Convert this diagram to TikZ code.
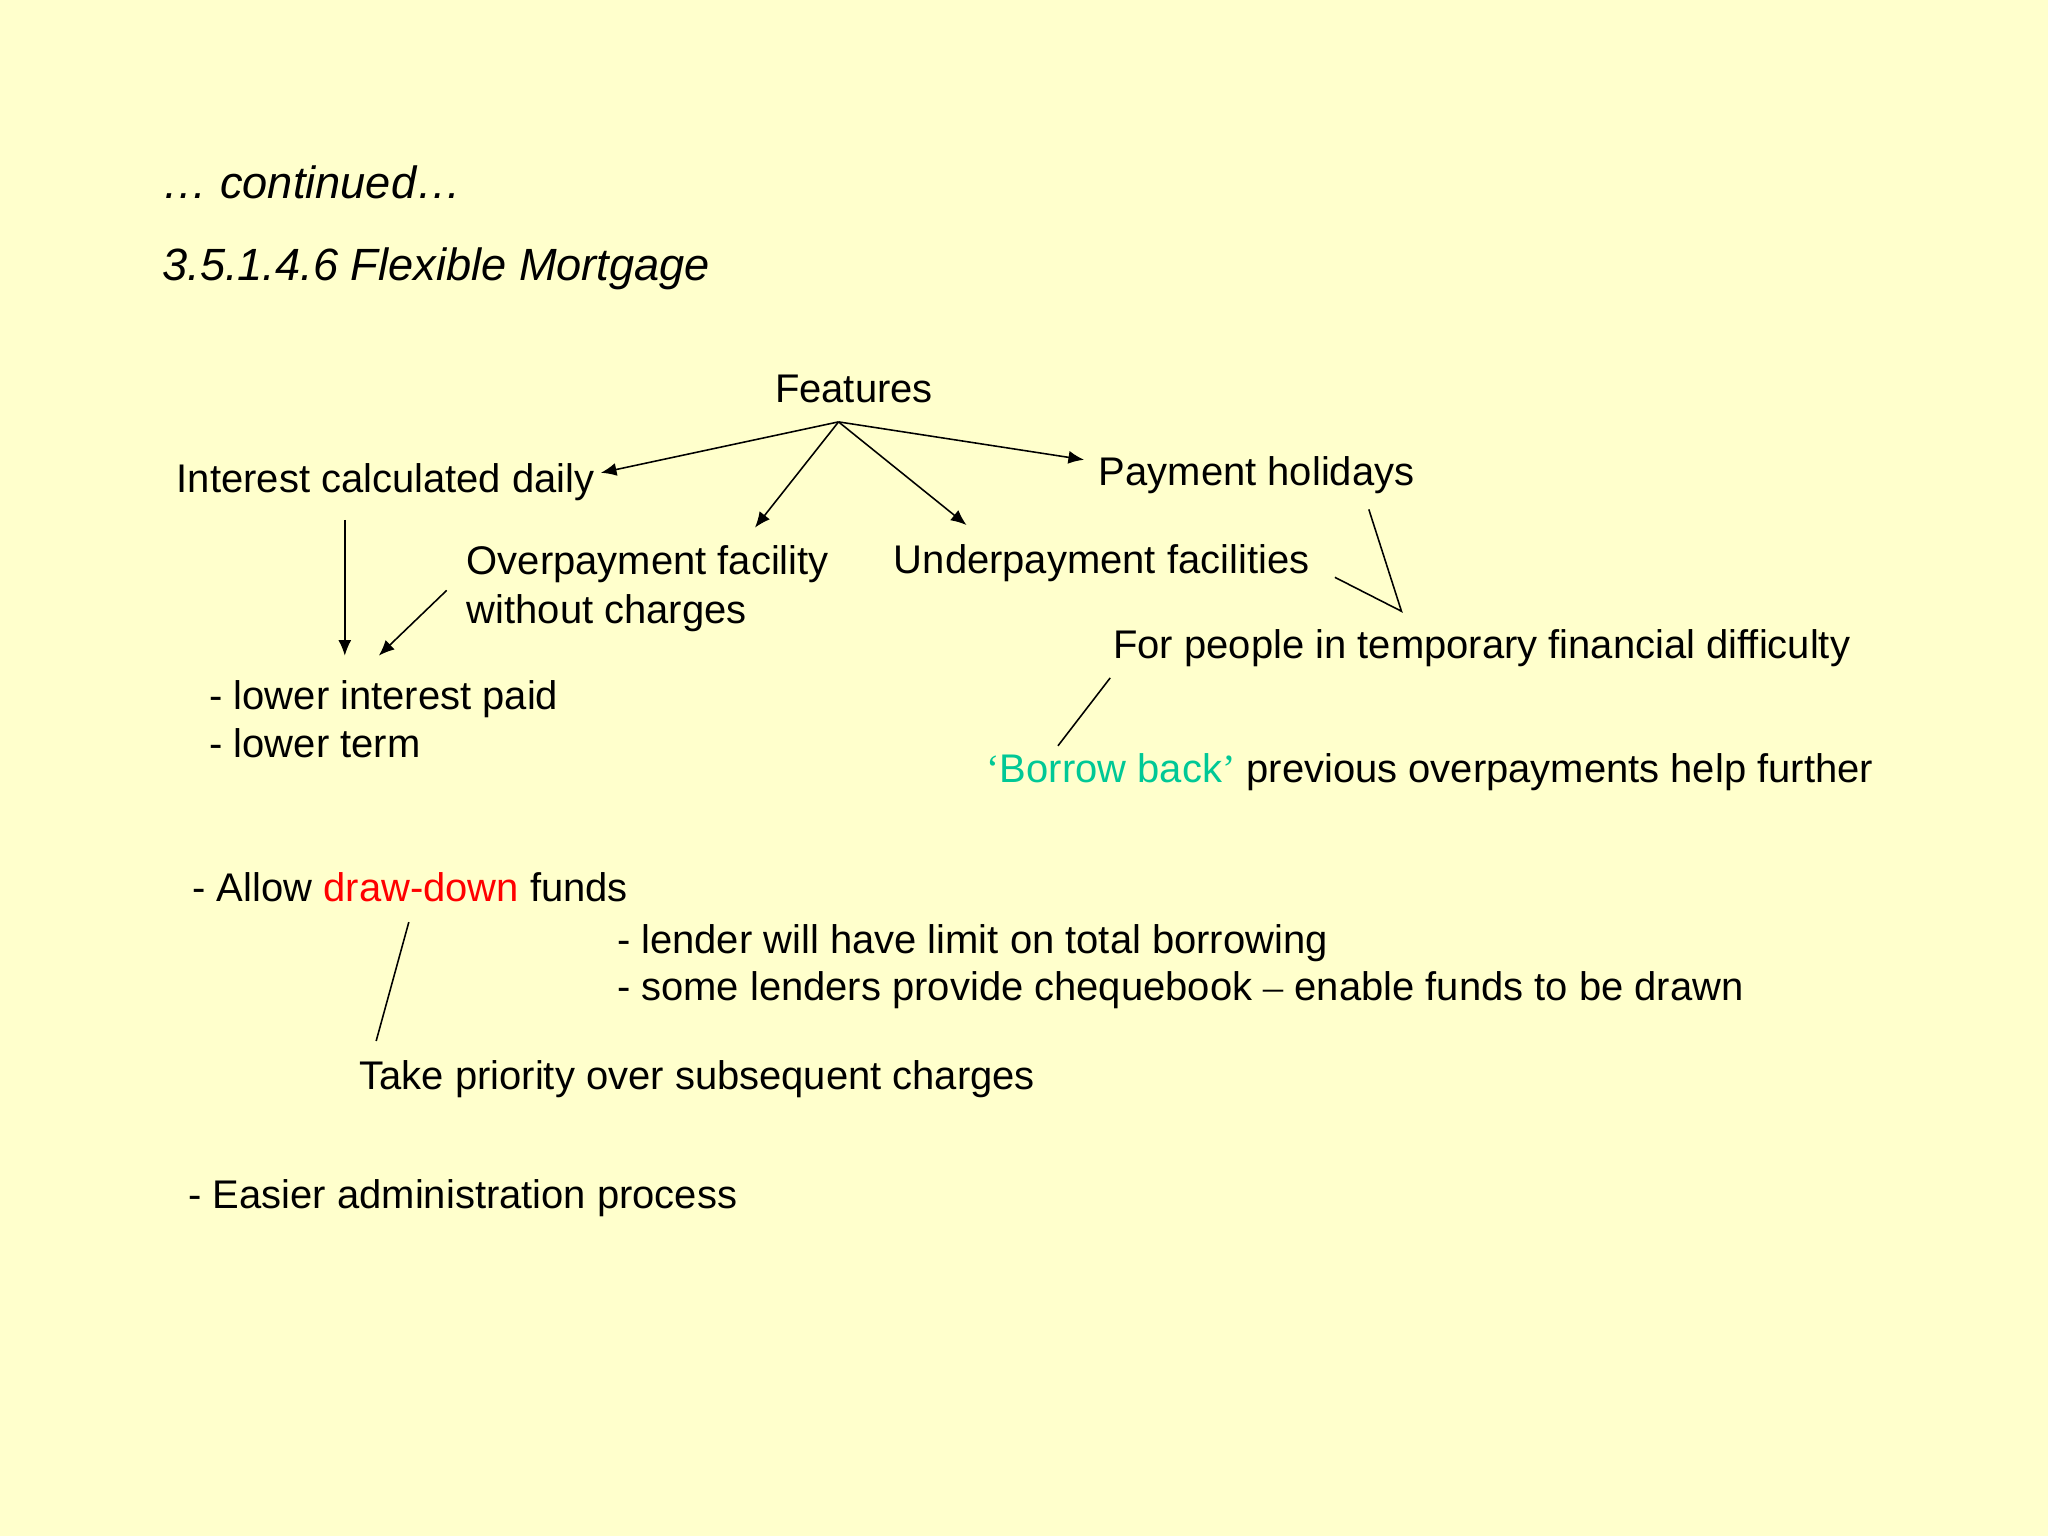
\documentclass[tikz,border=0pt]{standalone}
\usepackage{fontspec}
\setmainfont{Liberation Sans}
\newfontfamily\qfont{Liberation Serif}
\usetikzlibrary{arrows.meta}
\definecolor{bg}{HTML}{FFFFCC}
\definecolor{teal2}{HTML}{00C896}
\begin{document}
\begin{tikzpicture}[x=0.5pt,y=-0.5pt,
  txt/.style={anchor=base west,inner sep=0pt,font=\fontsize{15.3pt}{18pt}\selectfont},
  arr/.style={-{Latex[length=6pt,width=5pt]},line width=0.6pt},
  ln/.style={line width=0.6pt}]
\fill[bg] (0,0) rectangle (1568,1176);
\node[txt,font=\fontsize{17.3pt}{20pt}\selectfont\itshape] (cont) at (124,152) {… continued…};
\node[txt,font=\fontsize{17.3pt}{20pt}\selectfont\itshape] (title) at (124,215) {3.5.1.4.6 Flexible Mortgage};
\node[txt] (feat) at (593,308) {Features};
\node[txt] (icd) at (135,377) {Interest calculated daily};
\node[txt] (ph) at (841,372) {Payment holidays};
\node[txt] (op) at (357,440) {Overpayment facility};
\node[txt] (op2) at (357,477) {without charges};
\node[txt] (up) at (684,439) {Underpayment facilities};
\node[txt] (fp) at (852,504) {For people in temporary financial difficulty};
\node[txt] (lip) at (160,543) {- lower interest paid};
\node[txt] (lt) at (160,580) {- lower term};
\node[txt] (bb) at (755,599) {\textcolor{teal2}{{\qfont‘}Borrow back{\qfont’}} previous overpayments help further};
\node[txt] (al) at (147,690) {- Allow \textcolor{red}{draw-down} funds};
\node[txt] (lw) at (472,730) {- lender will have limit on total borrowing};
\node[txt] (sl) at (472,766) {- some lenders provide chequebook {\qfont–} enable funds to be drawn};
\node[txt] (tp) at (275,834) {Take priority over subsequent charges};
\node[txt] (ea) at (144,925) {- Easier administration process};
\coordinate (f0) at (642,323);
\coordinate (a1) at (460,362); \coordinate (a2) at (578,404);
\coordinate (a3) at (740,402); \coordinate (a4) at (830,352);
\draw[arr] (f0) -- (a1); \draw[arr] (f0) -- (a2);
\draw[arr] (f0) -- (a3); \draw[arr] (f0) -- (a4);
\coordinate (i1) at (264,398); \coordinate (i2) at (264,502);
\draw[arr] (i1) -- (i2);
\coordinate (o1) at (342,452); \coordinate (o2) at (290,502);
\draw[arr] (o1) -- (o2);
\coordinate (p1) at (1048,390); \coordinate (p2) at (1073,468); \coordinate (p3) at (1022,442);
\draw[ln] (p1) -- (p2) -- (p3);
\coordinate (b1) at (850,519); \coordinate (b2) at (810,571);
\draw[ln] (b1) -- (b2);
\coordinate (d1) at (313,706); \coordinate (d2) at (288,797);
\draw[ln] (d1) -- (d2);
\end{tikzpicture}
\end{document}
